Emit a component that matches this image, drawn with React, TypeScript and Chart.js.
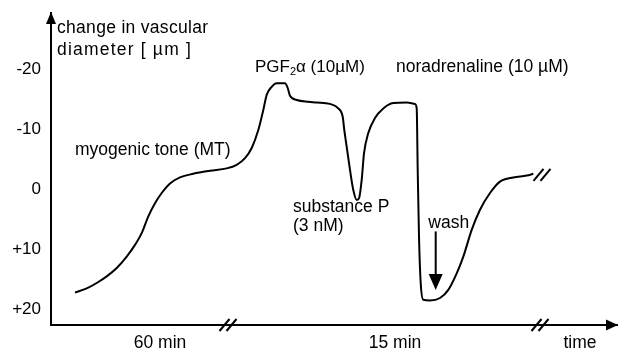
import React, { useEffect, useRef } from "react";
import { Chart, registerables } from "chart.js";

Chart.register(...registerables);

// time (arbitrary units along the broken time axis)
const timeValues = [
  24, 35.7, 45.7, 55.7, 65.7, 75.7, 84, 90.7, 97.3, 104, 110.7, 119, 129, 142.3, 159, 175.7,
  185.7, 194, 200.7, 207.3, 212.3, 215.7, 220.7, 225.7, 234, 236.7, 239, 245.7, 257.3, 265.7,
  279, 287.3, 291.7, 293.3, 295.7, 299, 302.3, 305.7, 308, 310.7, 313, 317.3, 324, 332.3,
  342.3, 355.7, 364, 365.7, 366.7, 368, 369.7, 372.3, 379, 389, 397.3, 405.7, 412.3, 420.7,
  429, 439, 449, 462.3, 475.7, 482.3,
];

// change in vascular diameter [µm] (negative = constriction, drawn upward)
const diameterChange = [
  17.2, 16.5, 15.6, 14.5, 13.1, 11.2, 9.25, 7.3, 4.5, 2.3, 0.6, -1.0, -2.0, -2.6, -3.1, -3.5,
  -4.1, -5.2, -6.9, -9.9, -13.25, -15.75, -17.1, -17.7, -17.7, -16.9, -15.6, -14.9, -14.6, -14.5,
  -14.25, -13.5, -12.1, -9.9, -7.1, -3.25, 0.1, 1.75, 1.5, -1.6, -6.0, -9.4, -11.9, -13.5,
  -14.4, -14.5, -14.25, -13.5, -3.25, 7.9, 15.6, 18.4, 18.5, 18.1, 16.75, 14.0, 11.2, 6.75,
  3.4, 0.6, -1.3, -2.0, -2.3, -2.6,
];

const yTickValues = [-20, -10, 0, 10, 20];
const yMin = -29.4;
const yMax = 22.6;
const xMin = 0;
const xMax = 566;

const xTickValues = [109, 344, 529];
const xTickLabels = ["60 min", "15 min", "time"];

const axisBreaks = [177, 489];
const traceBreakX = 489;

const FONT = "Arial, 'Liberation Sans', Helvetica, sans-serif";

type Note = { text: string; x: number; y: number; spacing?: number };
const notes: Note[] = [
  { text: "change in vascular", x: 6, y: -26.9, spacing: 0.3 },
  { text: "diameter [ µm ]", x: 6, y: -23.25, spacing: 1.2 },
  { text: "noradrenaline (10 µM)", x: 345, y: -20.4 },
  { text: "myogenic tone (MT)", x: 24, y: -6.6 },
  { text: "substance P", x: 242, y: 2.9 },
  { text: "(3 nM)", x: 242, y: 6.2 },
  { text: "wash", x: 377.3, y: 5.6 },
];
const pgfNote = { x: 204, y: -20.3 };
const washArrow = { x: 384.7, yFrom: 7.0, yTo: 16.75 };

const decoPlugin = {
  id: "deco",
  afterDraw(chart: any) {
    const ctx = chart.ctx as CanvasRenderingContext2D;
    const xs = chart.scales.x;
    const ys = chart.scales.y;
    const { left, right, top, bottom } = chart.chartArea;
    ctx.save();
    ctx.fillStyle = "#000";
    ctx.strokeStyle = "#000";

    // y-axis arrowhead
    ctx.beginPath();
    ctx.moveTo(left, top - 1);
    ctx.lineTo(left - 5, top + 11);
    ctx.lineTo(left + 5, top + 11);
    ctx.closePath();
    ctx.fill();
    // x-axis arrowhead
    ctx.beginPath();
    ctx.moveTo(right + 1, bottom);
    ctx.lineTo(right - 11, bottom - 5.5);
    ctx.lineTo(right - 11, bottom + 5.5);
    ctx.closePath();
    ctx.fill();

    // break marks
    const drawBreak = (cx: number, cy: number) => {
      ctx.lineWidth = 2;
      for (const off of [-3.5, 3.5]) {
        ctx.beginPath();
        ctx.moveTo(cx + off - 5, cy + 6);
        ctx.lineTo(cx + off + 5, cy - 6);
        ctx.stroke();
      }
    };
    for (const b of axisBreaks) drawBreak(xs.getPixelForValue(b), bottom);
    drawBreak(
      xs.getPixelForValue(traceBreakX) + 2,
      ys.getPixelForValue(diameterChange[diameterChange.length - 1]) + 1
    );

    // annotations
    ctx.textBaseline = "middle";
    ctx.textAlign = "left";
    ctx.font = `17.5px ${FONT}`;
    for (const n of notes) {
      (ctx as any).letterSpacing = `${n.spacing ?? 0}px`;
      ctx.fillText(n.text, xs.getPixelForValue(n.x), ys.getPixelForValue(n.y));
    }
    (ctx as any).letterSpacing = "0px";
    // PGF2α (10µM) with subscript
    let px = xs.getPixelForValue(pgfNote.x);
    const py = ys.getPixelForValue(pgfNote.y);
    ctx.font = `17px ${FONT}`;
    ctx.fillText("PGF", px, py);
    px += ctx.measureText("PGF").width;
    ctx.font = `11px ${FONT}`;
    ctx.fillText("2", px, py + 4);
    px += ctx.measureText("2").width;
    ctx.font = `17px ${FONT}`;
    ctx.fillText("α (10µM)", px, py);

    // wash arrow
    const ax = xs.getPixelForValue(washArrow.x);
    const ay0 = ys.getPixelForValue(washArrow.yFrom);
    const ay1 = ys.getPixelForValue(washArrow.yTo);
    ctx.lineWidth = 2;
    ctx.beginPath();
    ctx.moveTo(ax, ay0);
    ctx.lineTo(ax, ay1 - 14);
    ctx.stroke();
    ctx.beginPath();
    ctx.moveTo(ax, ay1);
    ctx.lineTo(ax - 7, ay1 - 16);
    ctx.lineTo(ax + 7, ay1 - 16);
    ctx.closePath();
    ctx.fill();
    ctx.restore();
  },
};

export default function App() {
  const ref = useRef<HTMLCanvasElement | null>(null);
  useEffect(() => {
    if (!ref.current) return;
    const chart = new Chart(ref.current, {
      type: "line",
      data: {
        datasets: [
          {
            data: timeValues.map((t, i) => ({ x: t, y: diameterChange[i] })),
            borderColor: "#000",
            borderWidth: 2,
            pointRadius: 0,
            cubicInterpolationMode: "monotone",
            fill: false,
          },
        ],
      },
      options: {
        animation: false,
        responsive: false,
        events: [],
        layout: { padding: { top: 13, right: 2, left: 0, bottom: 0 } },
        plugins: { legend: { display: false }, tooltip: { enabled: false } },
        scales: {
          x: {
            type: "linear",
            min: xMin,
            max: xMax,
            grid: { display: false, drawTicks: false },
            border: { display: true, color: "#000", width: 2 },
            afterBuildTicks: (s: any) => {
              s.ticks = xTickValues.map((v) => ({ value: v }));
            },
            afterFit: (s: any) => {
              s.height = 26;
              s.paddingLeft = 0;
              s.paddingRight = 0;
              s.paddingTop = 0;
              s.paddingBottom = 0;
            },
            ticks: {
              padding: 8,
              color: "#000",
              font: { family: FONT, size: 17.5 },
              maxRotation: 0,
              autoSkip: false,
              callback: (v: any) => {
                const i = xTickValues.indexOf(Number(v));
                return i >= 0 ? xTickLabels[i] : "";
              },
            },
          },
          y: {
            type: "linear",
            reverse: true,
            min: yMin,
            max: yMax,
            grid: { display: false, drawTicks: false },
            border: { display: true, color: "#000", width: 2 },
            afterBuildTicks: (s: any) => {
              s.ticks = yTickValues.map((v) => ({ value: v }));
            },
            afterFit: (s: any) => {
              s.width = 51;
              s.paddingLeft = 0;
              s.paddingRight = 0;
              s.paddingTop = 0;
              s.paddingBottom = 0;
            },
            ticks: {
              padding: 10,
              color: "#000",
              font: { family: FONT, size: 17 },
              callback: (v: any) => (Number(v) > 0 ? `+${v}` : `${v}`),
            },
          },
        },
      },
      plugins: [decoPlugin],
    } as any);
    return () => chart.destroy();
  }, []);
  return (
    <div style={{ position: "fixed", left: 0, top: 0, width: 619, height: 351, background: "#fff" }}>
      <canvas ref={ref} width={619} height={351} style={{ display: "block" }} />
    </div>
  );
}
